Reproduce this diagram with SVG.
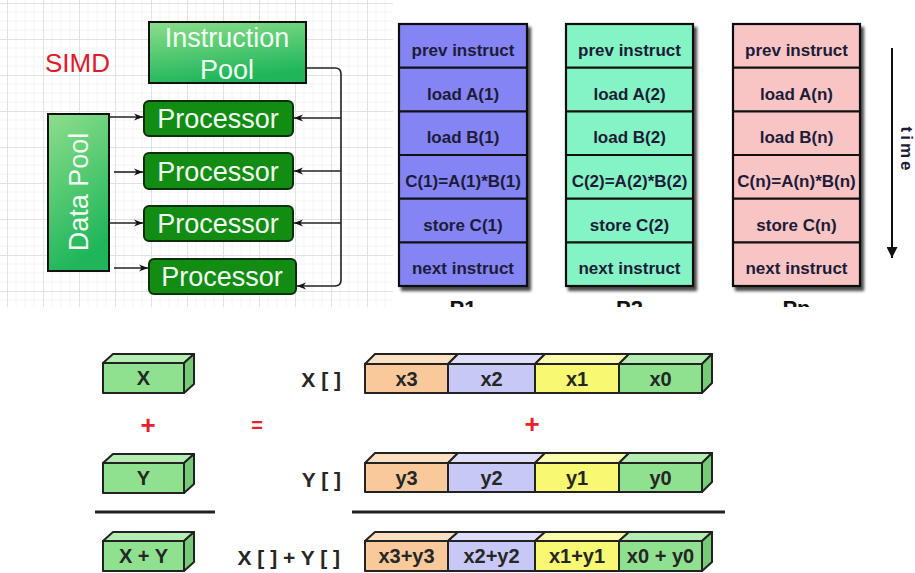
<svg xmlns="http://www.w3.org/2000/svg" width="915" height="573" viewBox="0 0 915 573">
<style>
.simd{font-family:"Liberation Sans",Arial,sans-serif;font-size:26px;fill:#e01b2c}
.wt{font-family:"Liberation Sans",Arial,sans-serif;font-size:27px;fill:#f2fff2;text-anchor:middle}
.pool{stroke:#111;stroke-width:2;fill:url(#gp)}
.proc{stroke:#0b2e0b;stroke-width:2;fill:#128c12}
.conn{fill:none;stroke:#222;stroke-width:1.6}
.col{stroke:#111;stroke-width:2.2}
.ct{font-family:"Liberation Sans",Arial,sans-serif;font-weight:bold;font-size:17px;fill:#1c1c38;text-anchor:middle}
.pl{font-family:"Liberation Sans",Arial,sans-serif;font-weight:bold;font-size:22px;fill:#111;text-anchor:middle}
.bt{font-family:"Liberation Sans",Arial,sans-serif;font-weight:bold;font-size:20px;fill:#262626;text-anchor:middle}
.lab{font-family:"Liberation Sans",Arial,sans-serif;font-weight:bold;font-size:21px;fill:#262626;text-anchor:end}
.red{font-family:"Liberation Sans",Arial,sans-serif;font-weight:bold;font-size:26px;fill:#e8202a;text-anchor:middle}
.edge{stroke:#222;stroke-width:2;stroke-linejoin:round}
.gf{fill:#8fe08f}.gt{fill:#b4ecb4}.gs{fill:#76cc76}
.of{fill:#f9c99b}.ot{fill:#fde0c2}
.lf{fill:#c8c8f6}.lt{fill:#dedefb}
.yf{fill:#f8f872}.yt{fill:#fbfbad}
</style>
<defs>
<pattern id="grid" patternUnits="userSpaceOnUse" x="7" y="3" width="36" height="36">
<path d="M9,0V36M18,0V36M27,0V36M0,9H36M0,18H36M0,27H36" stroke="#f4f4f4" stroke-width="1" fill="none"/>
<path d="M0.5,0V36M0,0.5H36" stroke="#e2e2e2" stroke-width="1" fill="none"/>
</pattern>
<linearGradient id="gp" x1="0" y1="0" x2="0.3" y2="1">
<stop offset="0" stop-color="#8ede8c"/>
<stop offset="1" stop-color="#1fb65a"/>
</linearGradient>
<marker id="ah" viewBox="0 0 10 10" refX="10" refY="5" markerWidth="9" markerHeight="9" markerUnits="userSpaceOnUse" orient="auto">
<path d="M0,1 L10,5 L0,9 L3,5 z" fill="#111"/>
</marker>
<marker id="ta" viewBox="0 0 10 10" refX="10" refY="5" markerWidth="11" markerHeight="11" markerUnits="userSpaceOnUse" orient="auto">
<path d="M0,0 L10,5 L0,10 z" fill="#111"/>
</marker>
<filter id="sh" x="-10%" y="-10%" width="130%" height="130%">
<feDropShadow dx="3" dy="4" stdDeviation="1.8" flood-color="#000" flood-opacity="0.7"/>
</filter>
<clipPath id="clipTop"><rect x="0" y="0" width="915" height="307"/></clipPath>
</defs>

<rect width="915" height="573" fill="#fff"/>
<rect x="0" y="0" width="393" height="307" fill="url(#grid)"/>

<text class="simd" x="45" y="72">SIMD</text>

<g id="instruction-pool">
<rect class="pool" x="149" y="22" width="157" height="61"/>
<text class="wt" x="227" y="47">Instruction</text>
<text class="wt" x="227" y="79">Pool</text>
</g>

<g id="data-pool">
<rect class="pool" x="48" y="114" width="61" height="157"/>
<text class="wt" transform="translate(88,192) rotate(-90)">Data Pool</text>
</g>

<g id="processor-1">
<rect class="proc" x="144" y="101" width="149" height="35" rx="5"/>
<text class="wt" x="218" y="128">Processor</text>
</g>
<g id="processor-2">
<rect class="proc" x="144" y="153" width="149" height="36" rx="5"/>
<text class="wt" x="218" y="181">Processor</text>
</g>
<g id="processor-3">
<rect class="proc" x="144" y="206" width="149" height="35" rx="5"/>
<text class="wt" x="218" y="233">Processor</text>
</g>
<g id="processor-4">
<rect class="proc" x="149" y="259" width="147" height="35" rx="5"/>
<text class="wt" x="222" y="286">Processor</text>
</g>

<g id="connectors">
<path class="conn" d="M109,117 H143" marker-end="url(#ah)"/>
<path class="conn" d="M114,172 H143" marker-end="url(#ah)"/>
<path class="conn" d="M109,223 H143" marker-end="url(#ah)"/>
<path class="conn" d="M114,268 H148" marker-end="url(#ah)"/>
<path class="conn" d="M306,68 H335 Q341,68 341,74 V280 Q341,286 335,286 H297" marker-end="url(#ah)"/>
<path class="conn" d="M341,118 H294" marker-end="url(#ah)"/>
<path class="conn" d="M341,171 H294" marker-end="url(#ah)"/>
<path class="conn" d="M341,223 H294" marker-end="url(#ah)"/>
<path d="M892,48 V258" stroke="#111" stroke-width="2" fill="none" marker-end="url(#ta)"/>
</g>

<g id="col-p1">
<g filter="url(#sh)"><rect class="col" x="399" y="24" width="128" height="262" fill="#8484f4"/></g>
<path class="col" d="M399,67.7H527M399,111.3H527M399,155H527M399,198.7H527M399,242.3H527" fill="none"/>
<text class="ct" x="463" y="56">prev instruct</text>
<text class="ct" x="463" y="99.5">load A(1)</text>
<text class="ct" x="463" y="143">load B(1)</text>
<text class="ct" x="463" y="187">C(1)=A(1)*B(1)</text>
<text class="ct" x="463" y="230.5">store C(1)</text>
<text class="ct" x="463" y="274">next instruct</text>
</g>
<g id="col-p2">
<g filter="url(#sh)"><rect class="col" x="566" y="24" width="127" height="262" fill="#84f4c4"/></g>
<path class="col" d="M566,67.7H693M566,111.3H693M566,155H693M566,198.7H693M566,242.3H693" fill="none"/>
<text class="ct" x="629.5" y="56">prev instruct</text>
<text class="ct" x="629.5" y="99.5">load A(2)</text>
<text class="ct" x="629.5" y="143">load B(2)</text>
<text class="ct" x="629.5" y="187">C(2)=A(2)*B(2)</text>
<text class="ct" x="629.5" y="230.5">store C(2)</text>
<text class="ct" x="629.5" y="274">next instruct</text>
</g>
<g id="col-pn">
<g filter="url(#sh)"><rect class="col" x="733" y="24" width="127" height="262" fill="#f9c4c4"/></g>
<path class="col" d="M733,67.7H860M733,111.3H860M733,155H860M733,198.7H860M733,242.3H860" fill="none"/>
<text class="ct" x="796.5" y="56">prev instruct</text>
<text class="ct" x="796.5" y="99.5">load A(n)</text>
<text class="ct" x="796.5" y="143">load B(n)</text>
<text class="ct" x="796.5" y="187">C(n)=A(n)*B(n)</text>
<text class="ct" x="796.5" y="230.5">store C(n)</text>
<text class="ct" x="796.5" y="274">next instruct</text>
</g>
<g clip-path="url(#clipTop)">
<text class="pl" x="463" y="316">P1</text>
<text class="pl" x="629.5" y="316">P2</text>
<text class="pl" x="796.5" y="316">Pn</text>
</g>
<text class="ct" style="font-size:17px;letter-spacing:3px;text-anchor:middle" transform="translate(901,150) rotate(90)">time</text>

<!-- Scalar boxes -->
<g id="box-x">
<path class="gt edge" d="M103,363 L113,354 H194 L184,363 Z"/>
<path class="gs edge" d="M184,363 L194,354 V384 L184,393 Z"/>
<rect class="gf edge" x="103" y="363" width="81" height="30"/>
<text class="bt" x="143.5" y="385">X</text>
</g>
<text class="red" x="148" y="434">+</text>
<text class="red" style="font-size:20px" x="257" y="432">=</text>
<g id="box-y">
<path class="gt edge" d="M103,463 L113,454 H194 L184,463 Z"/>
<path class="gs edge" d="M184,463 L194,454 V484 L184,493 Z"/>
<rect class="gf edge" x="103" y="463" width="81" height="30"/>
<text class="bt" x="143.5" y="485">Y</text>
</g>
<path d="M95,512 H215" stroke="#222" stroke-width="3"/>
<g id="box-xy">
<path class="gt edge" d="M103,541 L113,532 H194 L184,541 Z"/>
<path class="gs edge" d="M184,541 L194,532 V562 L184,571 Z"/>
<rect class="gf edge" x="103" y="541" width="81" height="30"/>
<text class="bt" x="143.5" y="563">X + Y</text>
</g>

<text class="lab" x="341" y="387">X [ ]</text>
<text class="lab" x="341" y="487">Y [ ]</text>
<text class="lab" x="340" y="565">X [ ] + Y [ ]</text>

<!-- Vector X -->
<g id="vec-x">
<path class="ot edge" d="M365,364 L375,354 H458 L448,364 Z"/>
<path class="lt edge" d="M448,364 L458,354 H545 L535,364 Z"/>
<path class="yt edge" d="M535,364 L545,354 H629 L619,364 Z"/>
<path class="gt edge" d="M619,364 L629,354 H712 L702,364 Z"/>
<path class="gs edge" d="M702,364 L712,354 V383 L702,393 Z"/>
<rect class="of edge" x="365" y="364" width="83" height="29"/>
<rect class="lf edge" x="448" y="364" width="87" height="29"/>
<rect class="yf edge" x="535" y="364" width="84" height="29"/>
<rect class="gf edge" x="619" y="364" width="83" height="29"/>
<text class="bt" x="406.5" y="386">x3</text>
<text class="bt" x="491.5" y="386">x2</text>
<text class="bt" x="577" y="386">x1</text>
<text class="bt" x="660.5" y="386">x0</text>
</g>
<text class="red" x="532" y="433">+</text>
<g id="vec-y">
<path class="ot edge" d="M365,463 L375,453 H458 L448,463 Z"/>
<path class="lt edge" d="M448,463 L458,453 H545 L535,463 Z"/>
<path class="yt edge" d="M535,463 L545,453 H629 L619,463 Z"/>
<path class="gt edge" d="M619,463 L629,453 H712 L702,463 Z"/>
<path class="gs edge" d="M702,463 L712,453 V482 L702,492 Z"/>
<rect class="of edge" x="365" y="463" width="83" height="29"/>
<rect class="lf edge" x="448" y="463" width="87" height="29"/>
<rect class="yf edge" x="535" y="463" width="84" height="29"/>
<rect class="gf edge" x="619" y="463" width="83" height="29"/>
<text class="bt" x="406.5" y="485">y3</text>
<text class="bt" x="491.5" y="485">y2</text>
<text class="bt" x="577" y="485">y1</text>
<text class="bt" x="660.5" y="485">y0</text>
</g>
<path d="M352,512 H725" stroke="#222" stroke-width="3"/>
<g id="vec-sum">
<path class="ot edge" d="M365,541 L375,532 H458 L448,541 Z"/>
<path class="lt edge" d="M448,541 L458,532 H545 L535,541 Z"/>
<path class="yt edge" d="M535,541 L545,532 H629 L619,541 Z"/>
<path class="gt edge" d="M619,541 L629,532 H712 L702,541 Z"/>
<path class="gs edge" d="M702,541 L712,532 V562 L702,571 Z"/>
<rect class="of edge" x="365" y="541" width="83" height="30"/>
<rect class="lf edge" x="448" y="541" width="87" height="30"/>
<rect class="yf edge" x="535" y="541" width="84" height="30"/>
<rect class="gf edge" x="619" y="541" width="83" height="30"/>
<text class="bt" x="406.5" y="563">x3+y3</text>
<text class="bt" x="491.5" y="563">x2+y2</text>
<text class="bt" x="577" y="563">x1+y1</text>
<text class="bt" x="660.5" y="563">x0 + y0</text>
</g>
</svg>
